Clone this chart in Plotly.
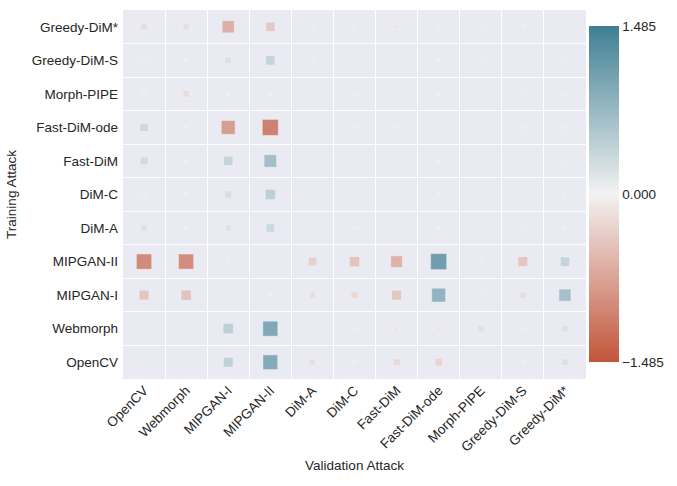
import numpy as np
import plotly.graph_objects as go

attacks = ["OpenCV", "Webmorph", "MIPGAN-I", "MIPGAN-II", "DiM-A", "DiM-C",
           "Fast-DiM", "Fast-DiM-ode", "Morph-PIPE", "Greedy-DiM-S", "Greedy-DiM*"]

# one row per training attack, columns follow `attacks` (validation attack)
row_opencv = [None, None, 0.55, 1.25, -0.24, 0.04, -0.30, -0.35, -0.10, -0.05, 0.25]
row_webmorph = [None, None, 0.60, 1.30, 0.03, 0.02, -0.14, -0.14, 0.25, -0.05, 0.25]
row_mipgan_i = [-0.55, -0.60, None, 0.03, -0.24, -0.30, -0.55, 1.10, 0.04, -0.24, 0.85]
row_mipgan_ii = [-1.35, -1.32, -0.03, None, -0.42, -0.60, -0.80, 1.485, 0.05, -0.55, 0.50]
row_dim_a = [0.24, -0.05, 0.22, 0.42, None, 0.03, None, 0.02, None, 0.01, 0.04]
row_dim_c = [-0.04, -0.05, 0.30, 0.60, 0.01, None, None, 0.03, None, None, 0.03]
row_fast_dim = [0.36, 0.05, 0.50, 0.90, None, None, None, 0.03, None, None, 0.10]
row_fast_dim_ode = [0.40, 0.05, -1.10, -1.485, 0.03, 0.03, 0.02, None, 0.01, -0.05, -0.05]
row_morph_pipe = [0.05, -0.26, -0.06, -0.06, None, 0.03, None, 0.03, None, -0.01, -0.08]
row_greedy_s = [-0.04, -0.03, 0.24, 0.50, 0.03, None, None, 0.03, 0.01, None, 0.02]
row_greedy_star = [-0.26, -0.24, -0.85, -0.50, -0.04, -0.05, -0.15, -0.04, 0.01, -0.06, None]

rows = [row_opencv, row_webmorph, row_mipgan_i, row_mipgan_ii, row_dim_a, row_dim_c,
        row_fast_dim, row_fast_dim_ode, row_morph_pipe, row_greedy_s, row_greedy_star]

vmax = 1.485
xs, ys, vals = [], [], []
for train, row in zip(attacks, rows):
    for val_att, v in zip(attacks, row):
        if v is None:
            continue
        xs.append(val_att)
        ys.append(train)
        vals.append(v)
vals = np.array(vals)

colorscale = [[0.0, "#c3553a"], [0.5, "#f2f2f2"], [1.0, "#3f7f93"]]
font = "Liberation Sans, Arial, sans-serif"

fig = go.Figure()
fig.add_trace(go.Scatter(
    x=xs, y=ys, mode="markers",
    marker=dict(symbol="square", size=np.abs(vals), sizemode="area",
                sizeref=2 * vmax / 16 ** 2, color=vals, cmin=-vmax, cmax=vmax,
                colorscale=colorscale,
                line=dict(width=1, color="rgba(255,255,255,0.4)"),
                colorbar=dict(x=1.0065, xanchor="left", xpad=0, ypad=0, y=0.5, yanchor="middle",
                              lenmode="pixels", len=336, thickness=30, outlinewidth=0,
                              tickvals=[-vmax, 0, vmax], ticktext=["\u22121.485", "0.000", "1.485"],
                              ticks="",
                              tickfont=dict(size=13.5, color="#262626", family=font))),
    showlegend=False,
))

axis_common = dict(type="category", categoryorder="array", categoryarray=attacks,
                   tickson="boundaries", showgrid=True, gridcolor="white", gridwidth=1,
                   zeroline=False, showline=False, ticks="", range=[-0.5, 10.5],
                   automargin=False,
                   tickfont=dict(size=13.5, color="#262626", family=font),
                   title_font=dict(size=13.5, color="#262626", family=font))
fig.update_xaxes(**axis_common, tickangle=-45, title_text="Validation Attack", title_standoff=6)
fig.update_yaxes(**axis_common, title_text="Training Attack", title_standoff=12,
                 ticklabelstandoff=4)

fig.update_layout(width=677, height=486, plot_bgcolor="#eaeaf2", paper_bgcolor="white",
                  margin=dict(l=123, r=91, t=10, b=107),
                  font=dict(family=font, color="#262626"))

# drop the default page margin so the figure sits at the window's corner
fig.write_html("out.html", config={"displayModeBar": False},
               post_script="document.body.style.margin='0';")
